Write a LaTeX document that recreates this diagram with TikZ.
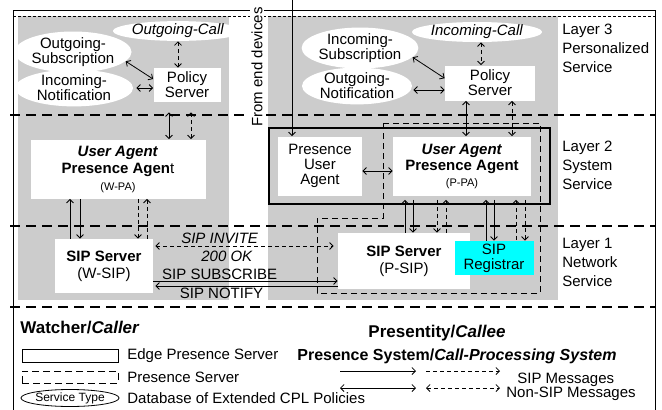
\documentclass[tikz,border=0pt]{standalone}
\usepackage{fontspec}
\setmainfont{Liberation Sans}
\usetikzlibrary{shapes.geometric,arrows.meta}
\definecolor{bggray}{RGB}{204,204,204}
\definecolor{regcyan}{RGB}{0,255,255}

\begin{document}
\begin{tikzpicture}[x=1pt, y=-1pt, line width=0.8pt,
  >={Straight Barb[length=3.5pt, width=7pt]},
  every node/.style={font=\fontsize{15}{15}\selectfont, align=center, inner sep=0pt},
  msg/.style={dash pattern=on 4pt off 3pt},
  layerline/.style={dash pattern=on 10pt off 6pt, line width=1.3pt}]
 \useasboundingbox (0,0) rectangle (662,410);
 % backgrounds and frame
 \fill[bggray] (18,16) rectangle (229,300);
 \fill[bggray] (268,16) rectangle (558,300);
 \draw (13,412) -- (13,10) -- (655,10) -- (655,412);
 \draw[dash pattern=on 3pt off 2pt] (13,16) -- (655,16);
 \draw[layerline] (10,115) -- (655,115);
 \draw[layerline] (10,226) -- (655,226);
 \draw[layerline] (10,307) -- (655,307);
 \draw[line width=1.3pt] (269,128) rectangle (550,204);
 \node[rotate=90, fill=white, inner sep=1pt] (devtxt) at (257,67) {From end devices};
 \begin{scope}[every node/.append style={ellipse, fill=white}]
  \node[minimum width=103, minimum height=18] (ocall) at (178,31) {\textit{Outgoing-Call}};
  \node[minimum width=117, minimum height=38] (osub) at (73,52) {Outgoing-\\Subscription};
  \node[minimum width=118, minimum height=33] (inot) at (74,88) {Incoming-\\Notification};
  \node[minimum width=115, minimum height=20] (icall) at (477,32) {\textit{Incoming-Call}};
  \node[minimum width=114, minimum height=35] (isub) at (360,48) {Incoming-\\Subscription};
  \node[minimum width=110, minimum height=32] (onot) at (357,86) {Outgoing-\\Notification};
 \end{scope}
 \begin{scope}[every node/.append style={rectangle, fill=white}]
  \node[minimum width=67, minimum height=34] (pol1) at (187,85) {Policy\\Server};
  \node[minimum width=90, minimum height=35] (pol2) at (490,83) {Policy\\Server};
  \node[minimum width=175, minimum height=59, font=\fontsize{15}{17}\selectfont] (wpa) at (118,169)
   {\textbf{\textit{User Agent}}\\\textbf{Presence Agen}t\\{\fontsize{11}{13}\selectfont (W-PA)}};
  \node[minimum width=84, minimum height=59] (pua) at (320,166) {Presence\\User\\Agent};
  \node[minimum width=138, minimum height=59, font=\fontsize{15}{16}\selectfont] (ppa) at (462,166)
   {\textbf{\textit{User Agent}}\\\textbf{Presence Agent}\\{\fontsize{11}{13}\selectfont (P-PA)}};
  \node[minimum width=98, minimum height=54, font=\fontsize{15}{17}\selectfont] (wsip) at (104,266) {\textbf{SIP Server}\\(W-SIP)};
  \node[minimum width=132, minimum height=56, font=\fontsize{15}{17}\selectfont] (psip) at (404,261) {\textbf{SIP Server}\\(P-SIP)};
  \node[minimum width=79, minimum height=34, fill=regcyan] (reg) at (494,258) {SIP\\Registrar};
 \end{scope}
 \draw[dash pattern=on 6pt off 4pt] (383,123) -- (540,123) -- (540,293) -- (317,293) -- (317,218) -- (383,218) -- cycle;
 % layer labels
 \begin{scope}[every node/.append style={anchor=north west, align=left, font=\fontsize{15}{19}\selectfont}]
  \node (layer3) at (562,24) {Layer 3\\Personalized\\Service};
  \node (layer2) at (562,141) {Layer 2\\System\\Service};
  \node (layer1) at (562,238) {Layer 1\\Network\\Service};
 \end{scope}
 % watcher side
 \path [<->, msg] (ocall.south) edge (ocall.south |- pol1.north);
 \path [<->] (osub.-10) edge (pol1.170);
 \path [<->] ([xshift=3pt]inot.east) edge (inot.east -| pol1.west);
 \path [<->, shorten <=10pt] ([xshift=-18pt]pol1.south) edge ([xshift=-18pt]pol1.south |- wpa.north);
 \path [<->, msg, shorten <=10pt] ([xshift=4pt]pol1.south) edge ([xshift=4pt]pol1.south |- wpa.north);
 \path [<-] ([xshift=-48pt]wpa.south) edge ([xshift=-48pt]wpa.south |- wsip.north);
 \path [->] ([xshift=-38pt]wpa.south) edge ([xshift=-38pt]wpa.south |- wsip.north);
 \path [->, msg] ([xshift=20pt]wpa.south) edge ([xshift=20pt]wpa.south |- wsip.north);
 \path [<-, msg] ([xshift=29pt]wpa.south) edge ([xshift=29pt]wpa.south |- wsip.north);
 % presentity side
 \coordinate (dev) at (292,0);
 \path [->] (dev) edge (dev |- pua.north);
 \path [<->, msg] ([xshift=4pt]icall.south) edge ([xshift=4pt]icall.south |- pol2.north);
 \path [<->] (isub.-10) edge (pol2.174);
 \path [<->] ([xshift=1pt, yshift=-4pt]onot.east) edge ([yshift=-4pt]onot.east -| pol2.west);
 \path [<->] ([xshift=-24pt]pol2.south) edge ([xshift=-24pt]pol2.south |- ppa.north);
 \path [<->, msg] ([xshift=22pt]pol2.south) edge ([xshift=22pt]pol2.south |- ppa.north);
 \path [<->] ([yshift=-5pt]pua.east) edge ([yshift=-5pt]pua.east -| ppa.west);
 \begin{scope}[shorten <=4pt]
  \path [<-] ([xshift=-57pt]ppa.south) edge ([xshift=-57pt]ppa.south |- psip.north);
  \path [->] ([xshift=-49pt]ppa.south) edge ([xshift=-49pt]ppa.south |- psip.north);
  \path [->, msg] ([xshift=-25pt]ppa.south) edge ([xshift=-25pt]ppa.south |- psip.north);
  \path [<-, msg] ([xshift=-16pt]ppa.south) edge ([xshift=-16pt]ppa.south |- psip.north);
  \path [<-] ([xshift=24pt]ppa.south) edge ([xshift=24pt]ppa.south |- reg.north);
  \path [->] ([xshift=32pt]ppa.south) edge ([xshift=32pt]ppa.south |- reg.north);
  \path [<-, msg] ([xshift=54pt]ppa.south) edge ([xshift=54pt]ppa.south |- reg.north);
  \path [->, msg] ([xshift=63pt]ppa.south) edge ([xshift=63pt]ppa.south |- reg.north);
 \end{scope}
 % SIP messages
 \path [<->, msg, shorten <=2pt, shorten >=4pt] ([yshift=20pt]wsip.east) edge
   node[pos=0.36, above=2pt] {\textit{SIP INVITE}}
   node[pos=0.4, below=5pt] {\textit{200 OK}} ([yshift=20pt]wsip.east -| psip.west);
 \path [->] ([yshift=-15pt]wsip.east) edge node[pos=0.36, above=1pt] {SIP SUBSCRIBE} ([yshift=-15pt]wsip.east -| psip.west);
 \path [<-, shorten <=2pt] ([yshift=-20pt]wsip.east) edge node[pos=0.37, below=2pt] {SIP NOTIFY} ([yshift=-20pt]wsip.east -| psip.west);
 % bottom
 \node[anchor=west, font=\fontsize{17}{17}\selectfont\bfseries] (watcher) at (20,328) {Watcher/\textit{Caller}};
 \node[font=\fontsize{17}{17}\selectfont\bfseries] (presentity) at (437,333) {Presentity/\textit{Callee}};
 % legend
 \node[draw, line width=1pt, minimum width=96, minimum height=13] (lgedge) at (70,356) {};
 \node[anchor=west] (lgedgetxt) at (127,356) {Edge Presence Server};
 \node[draw, dash pattern=on 7pt off 4pt, minimum width=96, minimum height=12] (lgps) at (70,377) {};
 \node[anchor=west] (lgpstxt) at (127,377) {Presence Server};
 \node[draw, ellipse, minimum width=96, minimum height=17] (lgdb) at (70,398) {\fontsize{12}{12}\selectfont Service Type};
 \node[anchor=west] (lgdbtxt) at (127,398) {Database of Extended CPL Policies};
 \node[font=\fontsize{16}{16}\selectfont\bfseries] (lgsys) at (457,356) {Presence System/\textit{Call-Processing System}};
 \coordinate (la) at (340,371); \coordinate (lb) at (416,371);
 \coordinate (lc) at (340,388); \coordinate (ld) at (416,388);
 \coordinate (le) at (426,371); \coordinate (lf) at (500,371);
 \coordinate (lg) at (426,388); \coordinate (lh) at (500,388);
 \path [->] (la) edge (lb);
 \path [<->] (lc) edge (ld);
 \path [->, msg] (le) edge (lf);
 \path [<->, msg] (lg) edge (lh);
 \node[anchor=west] (lgsip) at (517,380) {SIP Messages};
 \node[anchor=west] (lgnonsip) at (506,394) {Non-SIP Messages};
\end{tikzpicture}
\end{document}
